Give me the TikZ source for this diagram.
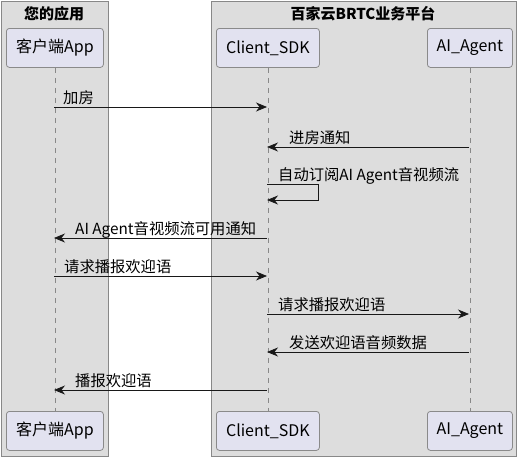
\documentclass[tikz,border=0pt]{standalone}
\usepackage{fontspec}
\setmainfont{Noto Sans CJK SC}
\usetikzlibrary{arrows.meta}
\definecolor{grpfill}{HTML}{DDDDDD}
\definecolor{grpdraw}{HTML}{888888}
\definecolor{partfill}{HTML}{E2E2F0}
\definecolor{partdraw}{HTML}{8A8A8A}
\definecolor{msgcol}{HTML}{181818}
\begin{document}
\begin{tikzpicture}[x=1pt,y=-1pt,
  font=\fontsize{15.3}{18}\selectfont,
  grp/.style={draw=grpdraw, fill=grpfill, line width=0.8pt, anchor=north west, inner sep=0pt},
  grptitle/.style={font=\fontsize{15}{18}\selectfont\bfseries, inner sep=0pt},
  part/.style={draw=partdraw, fill=partfill, line width=0.8pt, rounded corners=3pt, minimum height=39pt, inner sep=0pt, anchor=north west, font=\fontsize{16}{19}\selectfont},
  life/.style={draw=grpdraw, dashed, dash pattern=on 5pt off 5pt, line width=0.8pt},
  msg/.style={draw=msgcol, line width=0.8pt, -{Stealth[length=11pt,width=9pt,inset=3.5pt]}},
  lbl/.style={inner sep=0pt, anchor=base west}
]
\useasboundingbox (0,0) rectangle (518,458);
\node[grp, minimum width=107pt, minimum height=455pt] (g1) at (0.5,0.5) {};
\node[grp, minimum width=305pt, minimum height=455pt] (g2) at (211,0.5) {};
\node[grptitle] (t1) at (54,14) {您的应用};
\node[grptitle] (t2) at (363,14) {百家云BRTC业务平台};

\node[part, minimum width=97pt] (pa) at (6,28) {客户端App};
\node[part, minimum width=103pt] (pb) at (216,28) {Client\_SDK};
\node[part, minimum width=85pt] (pc) at (427,28) {AI\_Agent};
\node[part, minimum width=97pt] (qa) at (6,411) {客户端App};
\node[part, minimum width=103pt] (qb) at (216,411) {Client\_SDK};
\node[part, minimum width=85pt] (qc) at (427,411) {AI\_Agent};

\draw[life] (pa.south) -- (qa.north);
\draw[life] (pb.south) -- (qb.north);
\draw[life] (pc.south) -- (qc.north);

% message end points on lifelines
\coordinate (a1) at (54,107);  \coordinate (b1) at (267,107);
\coordinate (c2) at (469,147); \coordinate (b2) at (267,147);
\coordinate (b3) at (267,184); \coordinate (s3) at (318,184); \coordinate (s3b) at (318,200); \coordinate (b3e) at (267,200);
\coordinate (b4) at (267,238); \coordinate (a4) at (54,238);
\coordinate (a5) at (54,276);  \coordinate (b5) at (267,276);
\coordinate (b6) at (267,314); \coordinate (c6) at (469,314);
\coordinate (c7) at (469,352); \coordinate (b7) at (267,352);
\coordinate (b8) at (267,390); \coordinate (a8) at (54,390);

\draw[msg] (a1) -- (b1);
\node[lbl] (l1) at (63,103) {加房};
\draw[msg] (c2) -- (b2);
\node[lbl] (l2) at (289,143) {进房通知};
\draw[msg] (b3) -- (s3) -- (s3b) -- (b3e);
\node[lbl] (l3) at (278,180) {自动订阅AI Agent音视频流};
\draw[msg] (b4) -- (a4);
\node[lbl] (l4) at (75,234) {AI Agent音视频流可用通知};
\draw[msg] (a5) -- (b5);
\node[lbl] (l5) at (64,272) {请求播报欢迎语};
\draw[msg] (b6) -- (c6);
\node[lbl] (l6) at (278,310) {请求播报欢迎语};
\draw[msg] (c7) -- (b7);
\node[lbl] (l7) at (289,348) {发送欢迎语音频数据};
\draw[msg] (b8) -- (a8);
\node[lbl] (l8) at (75,386) {播报欢迎语};
\end{tikzpicture}
\end{document}
